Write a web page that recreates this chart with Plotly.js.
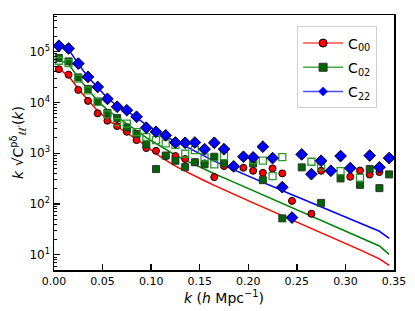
<!DOCTYPE html>
<html>
<head>
<meta charset="utf-8">
<script src="https://cdn.plot.ly/plotly-3.0.1.min.js"></script>
<style>html,body{margin:0;padding:0;background:#fff;}#chart{width:415px;height:311px;}</style>
</head>
<body>
<div id="chart"></div>
<script>
// k bins (h/Mpc)
const k = [0.005,0.015,0.025,0.035,0.045,0.055,0.065,0.075,0.085,0.095,
           0.105,0.115,0.125,0.135,0.145,0.155,0.165,0.175,0.185,0.195,
           0.205,0.215,0.225,0.235,0.245,0.255,0.265,0.275,0.285,0.295,
           0.305,0.315,0.325,0.335,0.345];

// model curves
const modelC00 = [45600,33200,18400,10900,6760,4600,3350,2490,1900,1350,
                  982,731,557,444,353,286,232,189,155,127,
                  105,86.5,71.5,59.3,49.0,40.5,33.3,27.5,22.6,18.6,
                  15.2,12.5,10.2,8.3,6.2];
const modelC02 = [68600,57200,30300,17600,10700,7080,5150,3750,2730,2030,
                  1550,1180,918,731,590,479,394,326,269,222,
                  184,152,126,104,85.7,70.8,58.5,48.3,40.0,33.0,
                  27.2,22.3,18.3,14.9,10.2];
const modelC22 = [129500,110500,57200,31700,19700,12200,8490,6760,5040,3580,
                  2730,2120,1730,1380,1100,857,698,569,469,387,
                  320,267,220,184,152,127,106,88.5,73.8,61.5,
                  51.3,42.8,35.6,29.0,21.1];

// measured points
const dataC00 = [45000,35000,17600,10700,6100,4360,3420,2640,1810,1260,
                 1110,877,877,766,667,629,338,557,525,515,
                 450,410,501,400,115,null,64,450,null,null,
                 343,454,379,424,null];
const dataC02 = [75000,64000,31000,18400,10400,6200,4900,3200,2380,1480,
                 486,898,708,532,662,604,850,629,null,null,
                 629,294,null,52,null,525,null,105,null,318,
                 null,238,486,205,382];
const dataC02open = [66000,59000,29300,17200,10200,5800,4100,3830,2600,2080,
                     1810,1560,1450,973,1150,826,604,877,null,null,
                     731,714,353,838,null,null,678,550,null,444,
                     null,327,null,null,null];
const dataC22 = [130000,115000,58000,31700,20100,11700,8200,7000,5200,3170,
                 2640,2240,1620,1600,1620,1200,1600,1200,550,850,
                 826,1340,800,214,54,946,387,708,450,877,
                 508,null,898,527,800];

const legendNames = ['C<sub>00</sub>','C<sub>02</sub>','C<sub>22</sub>'];

// y tick labels
const yTickVals = [10,100,1000,10000,100000];
const yTickText = ['10<sup>1</sup>','10<sup>2</sup>','10<sup>3</sup>','10<sup>4</sup>','10<sup>5</sup>'];
const yMinorVals = [];
[1,10,100,1000,10000,100000].forEach(d => { for (let m = 2; m <= 9; m++) yMinorVals.push(d*m); });

const xTickVals = [0,0.05,0.1,0.15,0.2,0.25,0.3,0.35];
const xTickText = ['0.00','0.05','0.10','0.15','0.20','0.25','0.30','0.35'];

const RED = '#ff0000', GREEN = '#008000', BLUE = '#0000ff';

const traces = [
  {x:k, y:modelC00, mode:'lines', line:{color:RED, width:1.5}, showlegend:false},
  {x:k, y:modelC02, mode:'lines', line:{color:GREEN, width:1.5}, showlegend:false},
  {x:k, y:modelC22, mode:'lines', line:{color:BLUE, width:1.5}, showlegend:false},
  {x:k, y:dataC00, mode:'markers', showlegend:false,
   marker:{symbol:'circle', size:7, color:RED, line:{color:'#000', width:1}}},
  {x:k, y:dataC02, mode:'markers', showlegend:false,
   marker:{symbol:'square', size:7, color:'#006400', line:{color:'#333', width:1}}},
  {x:k, y:dataC02open, mode:'markers', showlegend:false,
   marker:{symbol:'square-open', size:7, color:'#2e9a2e', line:{width:1.3}}},
  {x:k, y:dataC22, mode:'markers', showlegend:false,
   marker:{symbol:'diamond', size:9, color:BLUE, line:{color:'#000', width:1}}},
  // legend entries
  {x:[null], y:[null], mode:'lines+markers', name:legendNames[0], legendgroup:'a',
   line:{color:'rgba(255,0,0,0.7)', width:1.5},
   marker:{symbol:'circle', size:8, color:RED, line:{color:'#000', width:1}}},
  {x:[null], y:[null], mode:'lines+markers', name:legendNames[1], legendgroup:'b',
   line:{color:'rgba(0,128,0,0.7)', width:1.5},
   marker:{symbol:'square', size:8, color:'#006400', line:{color:'#333', width:1}}},
  {x:[null], y:[null], mode:'lines+markers', name:legendNames[2], legendgroup:'c',
   line:{color:'rgba(0,0,255,0.7)', width:1.5},
   marker:{symbol:'diamond', size:7, color:BLUE, line:{color:BLUE, width:0.5}}}
];

const layout = {
  width:415, height:311,
  margin:{l:54, r:21, t:15, b:41},
  paper_bgcolor:'#fff', plot_bgcolor:'#fff',
  font:{family:'DejaVu Sans', color:'#000', size:11},
  showlegend:true,
  legend:{x:0.715, y:0.955, xanchor:'left', yanchor:'top',
          bgcolor:'#fff', bordercolor:'#d0d0d0', borderwidth:1,
          font:{size:14, family:'DejaVu Sans'}, tracegroupgap:3, itemwidth:40},
  xaxis:{
    range:[0,0.35], tickmode:'array', tickvals:xTickVals, ticktext:xTickText,
    ticks:'inside', ticklen:6, tickwidth:1.3, tickcolor:'#000',
    showline:true, linecolor:'#000', linewidth:1.5, mirror:true,
    showgrid:false, zeroline:false,
    tickfont:{size:11},
    title:{text:'<i>k</i> (<i>h</i> Mpc<sup>−1</sup>)', font:{size:14}, standoff:4}
  },
  yaxis:{
    type:'log', range:[0.7,5.72], tickmode:'array', tickvals:yTickVals, ticktext:yTickText,
    ticks:'inside', ticklen:6, tickwidth:1.3, tickcolor:'#000',
    minor:{tickmode:'array', tickvals:yMinorVals, ticks:'inside', ticklen:3,
           tickcolor:'#000', tickwidth:1, showgrid:false},
    showline:true, linecolor:'#000', linewidth:1.5, mirror:true,
    showgrid:false, zeroline:false,
    tickfont:{size:12},
    title:{text:'<i>k</i> √C<sup>pδ</sup><sub>ℓℓ′</sub>(<i>k</i>)', font:{size:14}, standoff:2}
  }
};

Plotly.newPlot('chart', traces, layout, {displayModeBar:false, staticPlot:true});
</script>
</body>
</html>
